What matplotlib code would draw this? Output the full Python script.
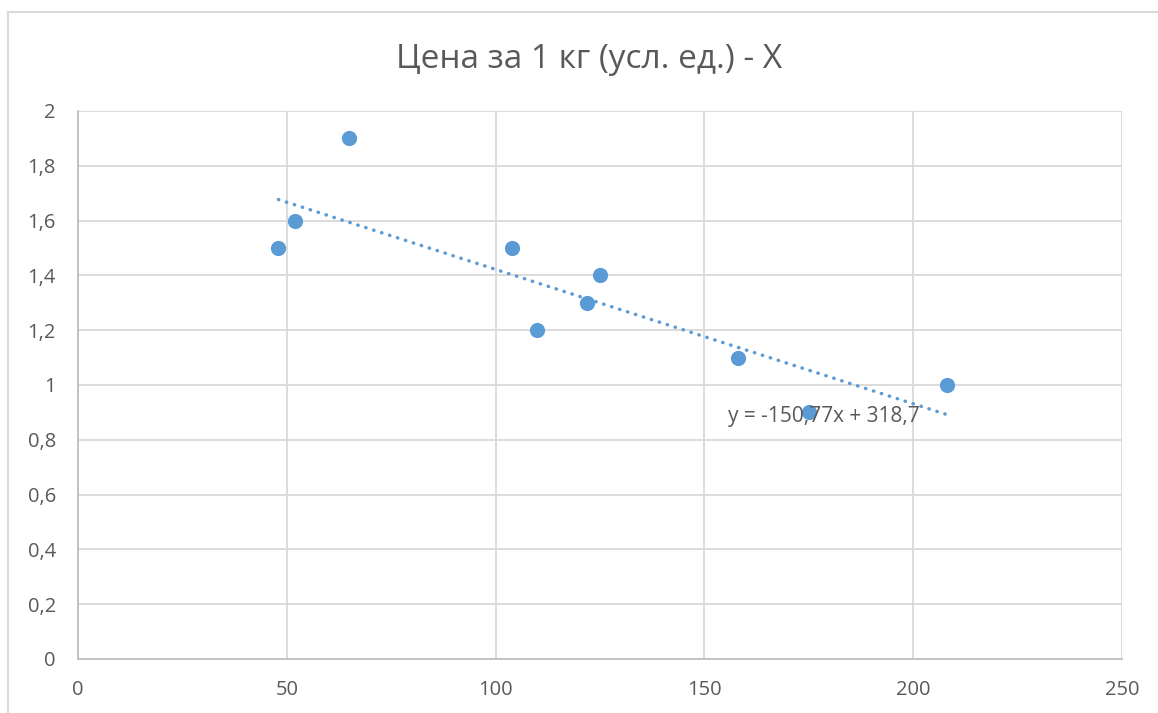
import numpy as np
import matplotlib
matplotlib.use("Agg")
import matplotlib.pyplot as plt
from matplotlib.ticker import FuncFormatter, MultipleLocator
from matplotlib.lines import Line2D

plt.rcParams['font.family'] = ['Open Sans', 'DejaVu Sans']

title = "Цена за 1 кг (усл. ед.) - X"
x_vals = [48, 52, 65, 104, 110, 122, 125, 158, 175, 208]
y_vals = [1.5, 1.6, 1.9, 1.5, 1.2, 1.3, 1.4, 1.1, 0.9, 1.0]
equation = "y = -150,77x + 318,7"

fig = plt.figure(figsize=(11.58, 7.13), dpi=100)
ax = fig.add_axes([78/1158, 1-659/713, (1122-78)/1158, (659-111)/713])

grid_c = '#d9d9d9'
axis_c = '#bfbfbf'
text_c = '#595959'
pt_c = '#5B9BD5'

ax.set_xlim(0, 250)
ax.set_ylim(0, 2)
ax.xaxis.set_major_locator(MultipleLocator(50))
ax.yaxis.set_major_locator(MultipleLocator(0.2))
fmt = FuncFormatter(lambda v, p: f"{round(v, 6):g}".replace('.', ','))
ax.xaxis.set_major_formatter(fmt)
ax.yaxis.set_major_formatter(fmt)
ax.grid(True, color=grid_c, lw=1.3)
ax.set_axisbelow(True)
for s in ['top', 'right']:
    ax.spines[s].set_visible(False)
for s in ['left', 'bottom']:
    ax.spines[s].set_color(axis_c)
    ax.spines[s].set_linewidth(1.3)
ax.tick_params(axis='both', length=0, labelsize=14.5, labelcolor=text_c)
ax.tick_params(axis='y', pad=16)
ax.tick_params(axis='x', pad=15)

ax.scatter(x_vals, y_vals, s=120, color=pt_c, zorder=3, linewidths=0)

coef = np.polyfit(x_vals, y_vals, 1)
xt = np.array([min(x_vals), max(x_vals)])
ax.plot(xt, np.polyval(coef, xt), color=pt_c, lw=2.5, dashes=(0.1, 2.3),
        dash_capstyle='round', zorder=4)

ax.text(155.6, 0.885, equation, fontsize=15, color=text_c, ha='left', va='center', zorder=5)

fig.text(589/1158, 1-60/713, title, fontsize=24, color=text_c, ha='center', va='center')

fig.add_artist(Line2D([8/1158, 8/1158], [0, 1-12/713], color=grid_c, lw=1.5, transform=fig.transFigure))
fig.add_artist(Line2D([8/1158, 1], [1-12/713, 1-12/713], color=grid_c, lw=1.5, transform=fig.transFigure))

fig.savefig("out.png", dpi=100)
